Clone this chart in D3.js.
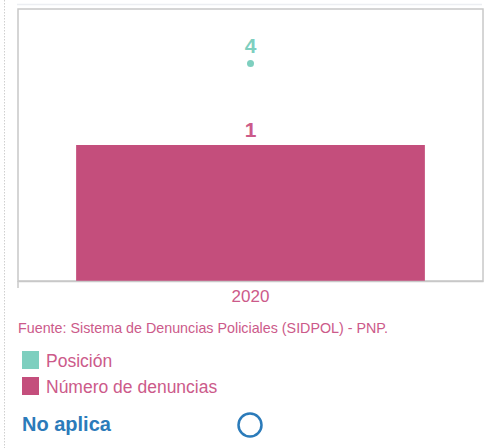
<!DOCTYPE html>
<html>
<head>
<meta charset="utf-8">
<script src="https://cdn.jsdelivr.net/npm/d3@7"></script>
<style>
  body { margin: 0; background: #fff; font-family: "Liberation Sans", Arial, sans-serif; }
</style>
</head>
<body>
<div id="chart"></div>
<script>
// data
var years = ["2020"];
var denuncias = [1];
var posicion = [4];
var seriesNames = ["Posición", "Número de denuncias"];
var seriesColors = ["#7ecfbf", "#c44e7c"];
var fuente = "Fuente: Sistema de Denuncias Policiales (SIDPOL) - PNP.";

var width = 488, height = 448;
var plot = {left: 18, right: 483, top: 9, bottom: 281};

var svg = d3.select("#chart").append("svg")
    .attr("width", width)
    .attr("height", height);

// dotted divider on the left
svg.append("line")
    .attr("x1", 4.5).attr("x2", 4.5)
    .attr("y1", 0).attr("y2", height)
    .style("stroke", "#cfcfcf")
    .style("stroke-dasharray", "1.5,1.5");

// faint top rule
svg.append("line")
    .attr("x1", 17).attr("x2", 482)
    .attr("y1", 4.5).attr("y2", 4.5)
    .style("stroke", "#eceef2")
    .style("stroke-width", 1.5);

var x = d3.scaleBand()
    .domain(years)
    .range([plot.left, plot.right])
    .paddingInner(0.25)
    .paddingOuter(0.125);

var yBar = d3.scaleLinear().domain([0, 2]).range([plot.bottom, plot.top]);
var yPos = d3.scaleLinear().domain([0, 5]).range([plot.bottom, plot.top]);

// plot frame
svg.append("rect")
    .attr("x", plot.left).attr("y", plot.top)
    .attr("width", plot.right - plot.left)
    .attr("height", plot.bottom - plot.top)
    .style("fill", "none")
    .style("stroke", "#c8c8c8")
    .style("stroke-width", 1.5);

// bars
svg.selectAll(".bar")
    .data(denuncias)
    .enter()
    .append("rect")
    .attr("class", "bar")
    .attr("x", function(d, i) { return x(years[i]); })
    .attr("width", x.bandwidth())
    .attr("y", function(d) { return yBar(d); })
    .attr("height", function(d) { return yBar(0) - yBar(d); })
    .style("fill", seriesColors[1]);

svg.selectAll(".barlabel")
    .data(denuncias)
    .enter()
    .append("text")
    .attr("class", "barlabel")
    .attr("x", function(d, i) { return x(years[i]) + x.bandwidth() / 2; })
    .attr("y", function(d) { return yBar(d) - 8; })
    .attr("text-anchor", "middle")
    .style("font-size", "21px")
    .style("font-weight", "bold")
    .style("fill", "#cc5a8a")
    .text(function(d) { return d; });

// position points
svg.selectAll(".pt")
    .data(posicion)
    .enter()
    .append("circle")
    .attr("class", "pt")
    .attr("cx", function(d, i) { return x(years[i]) + x.bandwidth() / 2; })
    .attr("cy", function(d) { return yPos(d); })
    .attr("r", 3.5)
    .style("fill", seriesColors[0]);

svg.selectAll(".ptlabel")
    .data(posicion)
    .enter()
    .append("text")
    .attr("class", "ptlabel")
    .attr("x", function(d, i) { return x(years[i]) + x.bandwidth() / 2; })
    .attr("y", function(d) { return yPos(d) - 10; })
    .attr("text-anchor", "middle")
    .style("font-size", "21px")
    .style("font-weight", "bold")
    .style("fill", seriesColors[0])
    .text(function(d) { return d; });

// x axis
var xAxis = svg.append("g")
    .attr("transform", "translate(0," + plot.bottom + ")")
    .call(d3.axisBottom(x).tickSize(0).tickPadding(9));
xAxis.select(".domain").style("stroke", "#c8c8c8").style("stroke-width", 1.5);
xAxis.selectAll("text")
    .style("font-family", "Liberation Sans, Arial, sans-serif")
    .style("font-size", "17px")
    .style("fill", "#cc5a8a");
svg.append("line")
    .attr("x1", plot.left).attr("x2", plot.left)
    .attr("y1", plot.bottom).attr("y2", plot.bottom + 7)
    .style("stroke", "#c8c8c8")
    .style("stroke-width", 1.5);

// source
svg.append("text")
    .attr("x", 18).attr("y", 333)
    .style("font-size", "14.3px")
    .style("fill", "#cc5a8a")
    .text(fuente);

// legend
var legend = svg.selectAll(".legend")
    .data(seriesNames)
    .enter()
    .append("g")
    .attr("class", "legend")
    .attr("transform", function(d, i) { return "translate(22," + (351 + i * 26) + ")"; });

legend.append("rect")
    .attr("width", 17).attr("height", 18)
    .style("fill", function(d, i) { return seriesColors[i]; });

legend.append("text")
    .attr("x", 24).attr("y", 15.5)
    .style("font-size", "17.5px")
    .style("fill", "#cc5a8a")
    .text(function(d) { return d; });

// no aplica
svg.append("text")
    .attr("x", 22).attr("y", 431)
    .style("font-size", "20px")
    .style("font-weight", "bold")
    .style("fill", "#2b7bba")
    .text("No aplica");

svg.append("circle")
    .attr("cx", 250).attr("cy", 425)
    .attr("r", 11.5)
    .style("fill", "none")
    .style("stroke", "#2b7bba")
    .style("stroke-width", 2.5);
</script>
</body>
</html>
